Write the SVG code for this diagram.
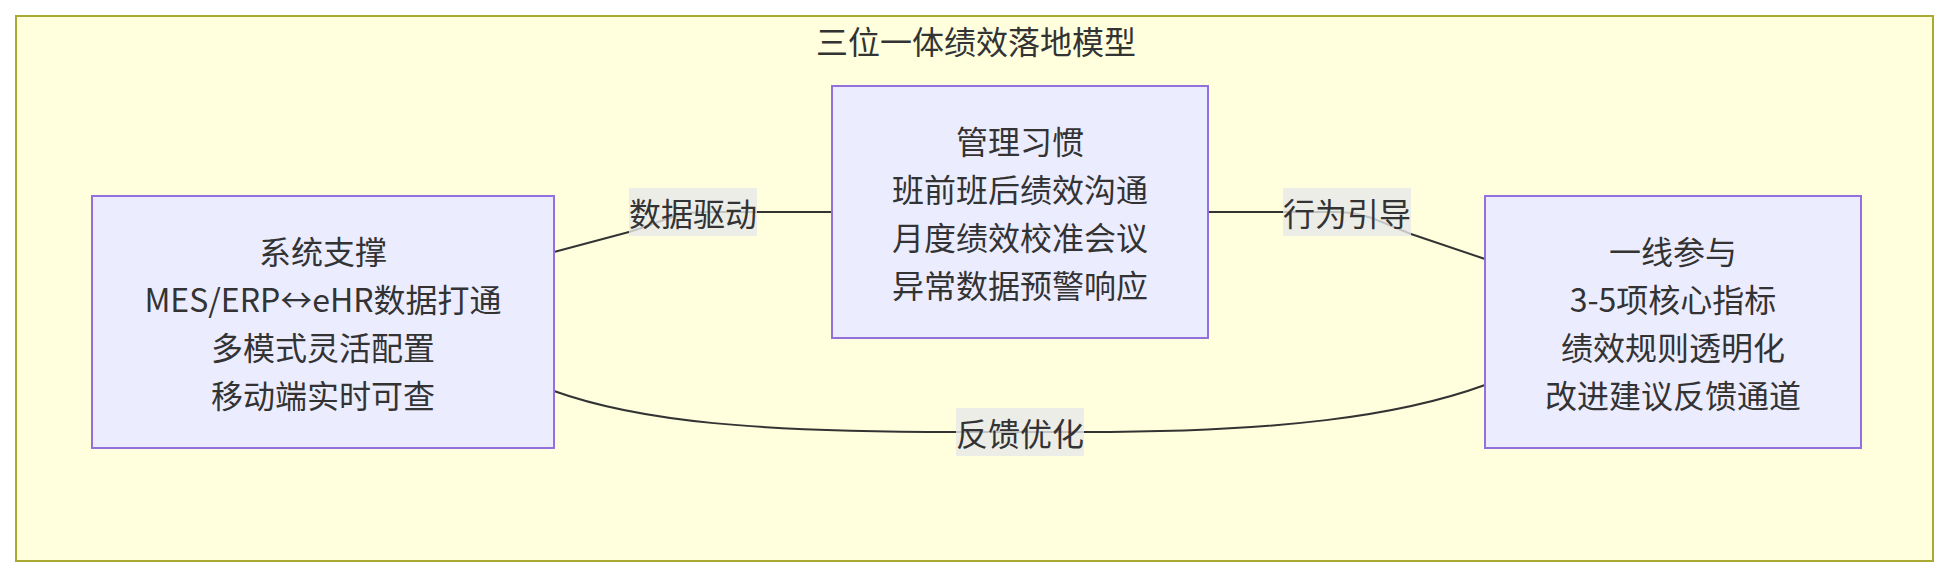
<svg xmlns="http://www.w3.org/2000/svg" width="1952" height="578" viewBox="0 0 1952 578">
<style>
  .cluster { fill: #ffffde; stroke: #aaaa33; stroke-width: 2; }
  .node rect { fill: #ececff; stroke: #9370db; stroke-width: 2; }
  .txt { font-family: "Noto Sans CJK SC", "Noto Sans", sans-serif; font-size: 32px; fill: #333333; text-anchor: middle; dominant-baseline: central; }
  .edge { fill: none; stroke: #333333; stroke-width: 2; }
  .lbl rect { fill: rgba(232,232,232,0.8); }
</style>
<rect width="1952" height="578" fill="#ffffff"/>
<g id="cluster">
  <rect class="cluster" x="16" y="16" width="1917" height="545"/>
  <text class="txt" x="976" y="40">三位一体绩效落地模型</text>
</g>
<g id="connectors">
  <path class="edge" d="M554,252 L629,232 C660,223 675,212 705,212 L832,212"/>
  <path class="edge" d="M1208,212 L1335,212 C1365,212 1380,222 1411,234 L1485,259"/>
  <path class="edge" d="M554,391 C640,422 760,432 956,432 L1084,432 C1280,432 1400,416 1485,385"/>
</g>
<g id="edge-labels">
  <g class="lbl" id="label-data">
    <rect x="629" y="188" width="128" height="48"/>
    <text class="txt" x="693" y="212">数据驱动</text>
  </g>
  <g class="lbl" id="label-behavior">
    <rect x="1283" y="188" width="128" height="48"/>
    <text class="txt" x="1347" y="212">行为引导</text>
  </g>
  <g class="lbl" id="label-feedback">
    <rect x="956" y="408" width="128" height="48"/>
    <text class="txt" x="1020" y="432">反馈优化</text>
  </g>
</g>
<g id="node-system" class="node">
  <rect x="92" y="196" width="462" height="252"/>
  <text class="txt" x="323" y="250">系统支撑</text>
  <text class="txt" x="323" y="298">MES/ERP↔eHR数据打通</text>
  <text class="txt" x="323" y="346">多模式灵活配置</text>
  <text class="txt" x="323" y="394">移动端实时可查</text>
</g>
<g id="node-management" class="node">
  <rect x="832" y="86" width="376" height="252"/>
  <text class="txt" x="1020" y="140">管理习惯</text>
  <text class="txt" x="1020" y="188">班前班后绩效沟通</text>
  <text class="txt" x="1020" y="236">月度绩效校准会议</text>
  <text class="txt" x="1020" y="284">异常数据预警响应</text>
</g>
<g id="node-frontline" class="node">
  <rect x="1485" y="196" width="376" height="252"/>
  <text class="txt" x="1673" y="250">一线参与</text>
  <text class="txt" x="1673" y="298">3-5项核心指标</text>
  <text class="txt" x="1673" y="346">绩效规则透明化</text>
  <text class="txt" x="1673" y="394">改进建议反馈通道</text>
</g>
</svg>
